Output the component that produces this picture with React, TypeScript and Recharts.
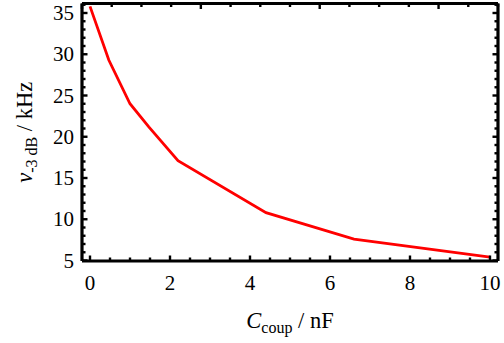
import { LineChart, Line, XAxis, YAxis } from 'recharts'

const cCoup = [0, 0.47, 1.0, 1.47, 2.2, 4.4, 6.6, 10.0]
const nu3dB = [35.8, 29.3, 24.0, 21.2, 17.1, 10.8, 7.6, 5.4]

const xMajorTicks = [0, 2, 4, 6, 8, 10]
const xAllTicks = [0, 0.5, 1, 1.5, 2, 2.5, 3, 3.5, 4, 4.5, 5, 5.5, 6, 6.5, 7, 7.5, 8, 8.5, 9, 9.5, 10]
const yMajorTicks = [5, 10, 15, 20, 25, 30, 35]
const yAllTicks = [5, 6, 7, 8, 9, 10, 11, 12, 13, 14, 15, 16, 17, 18, 19, 20, 21, 22, 23, 24, 25, 26, 27, 28, 29, 30, 31, 32, 33, 34, 35, 36]

const X_DOMAIN: [number, number] = [-0.2, 10.2]
const Y_DOMAIN: [number, number] = [4.94, 36.15]

const data = cCoup.map((c, i) => ({ c, nu: nu3dB[i] }))

const FONT = '"Liberation Serif", "Times New Roman", serif'
const frameLine = { stroke: '#000', strokeWidth: 3.2 }
const THIN = 0.01
const MAJOR_LEN = 5.5
const MINOR_LEN = 3.5

// one tick renderer per side: inward tick mark + (optional) label
const makeTick = (side: 'bottom' | 'top' | 'left' | 'right', majors: number[], withLabel: boolean) => (props: any) => {
    const { x, y, payload } = props
    const major = majors.includes(payload.value)
    const len = major ? MAJOR_LEN : MINOR_LEN
    let x2 = x
    let y2 = y
    if (side === 'bottom') y2 = y - len
    if (side === 'top') y2 = y + len
    if (side === 'left') x2 = x + len
    if (side === 'right') x2 = x - len
    return (
        <g>
            <line x1={x} y1={y} x2={x2} y2={y2} stroke="#000" strokeWidth={2.4} />
            {withLabel && major && side === 'bottom' && (
                <text x={x} y={y + 29} textAnchor="middle" fontFamily={FONT} fontSize={21} fill="#000">
                    {payload.value}
                </text>
            )}
            {withLabel && major && side === 'left' && (
                <text x={x - 8} y={y + 7} textAnchor="end" fontFamily={FONT} fontSize={21} fill="#000">
                    {payload.value}
                </text>
            )}
        </g>
    )
}

const BottomTick = makeTick('bottom', xMajorTicks, true)
const TopTick = makeTick('top', xMajorTicks, false)
const LeftTick = makeTick('left', yMajorTicks, true)
const RightTick = makeTick('right', yMajorTicks, false)

const XLabel = (props: any) => {
    const { viewBox } = props
    const cx = viewBox.x + viewBox.width / 2
    return (
        <text x={cx} y={328} textAnchor="middle" fontFamily={FONT} fontSize={22.5} fill="#000">
            <tspan fontStyle="italic">C</tspan>
            <tspan fontSize={16} dy={5}>coup</tspan>
            <tspan dy={-5}> / nF</tspan>
        </text>
    )
}

const YLabel = (props: any) => {
    const { viewBox } = props
    const cy = viewBox.y + viewBox.height / 2
    const cx = 32
    return (
        <text
            x={cx}
            y={cy}
            textAnchor="middle"
            fontFamily={FONT}
            fontSize={22.5}
            fill="#000"
            transform={`rotate(-90, ${cx}, ${cy})`}
        >
            <tspan fontStyle="italic">ν</tspan>
            <tspan fontSize={16} dy={5}>-3 dB</tspan>
            <tspan dy={-5}> / kHz</tspan>
        </text>
    )
}

export default function App() {
    return (
        <div style={{ position: 'absolute', left: 0, top: 0, background: '#fff' }}>
            <LineChart width={504} height={343} data={data} margin={{ top: 3.5, right: 6, left: 0, bottom: 0 }}>
                <XAxis
                    xAxisId="main"
                    dataKey="c"
                    type="number"
                    orientation="bottom"
                    domain={X_DOMAIN}
                    allowDataOverflow
                    ticks={xAllTicks}
                    interval={0}
                    height={82}
                    axisLine={frameLine}
                    tickLine={false}
                    tickSize={0}
                    tickMargin={0}
                    tick={<BottomTick />}
                    label={<XLabel />}
                />
                <XAxis
                    xAxisId="top"
                    type="number"
                    orientation="top"
                    domain={X_DOMAIN}
                    allowDataOverflow
                    ticks={xAllTicks}
                    interval={0}
                    height={THIN}
                    axisLine={frameLine}
                    tickLine={false}
                    tickSize={0}
                    tickMargin={0}
                    tick={<TopTick />}
                />
                <YAxis
                    yAxisId="main"
                    type="number"
                    orientation="left"
                    domain={Y_DOMAIN}
                    allowDataOverflow
                    ticks={yAllTicks}
                    interval={0}
                    width={82}
                    axisLine={frameLine}
                    tickLine={false}
                    tickSize={0}
                    tickMargin={0}
                    tick={<LeftTick />}
                    label={<YLabel />}
                />
                <YAxis
                    yAxisId="right"
                    type="number"
                    orientation="right"
                    domain={Y_DOMAIN}
                    allowDataOverflow
                    ticks={yAllTicks}
                    interval={0}
                    width={THIN}
                    axisLine={frameLine}
                    tickLine={false}
                    tickSize={0}
                    tickMargin={0}
                    tick={<RightTick />}
                />

                <Line
                    xAxisId="main"
                    yAxisId="main"
                    type="linear"
                    dataKey="nu"
                    stroke="#ff0000"
                    strokeWidth={2.8}
                    dot={false}
                    isAnimationActive={false}
                />
            </LineChart>
        </div>
    )
}
